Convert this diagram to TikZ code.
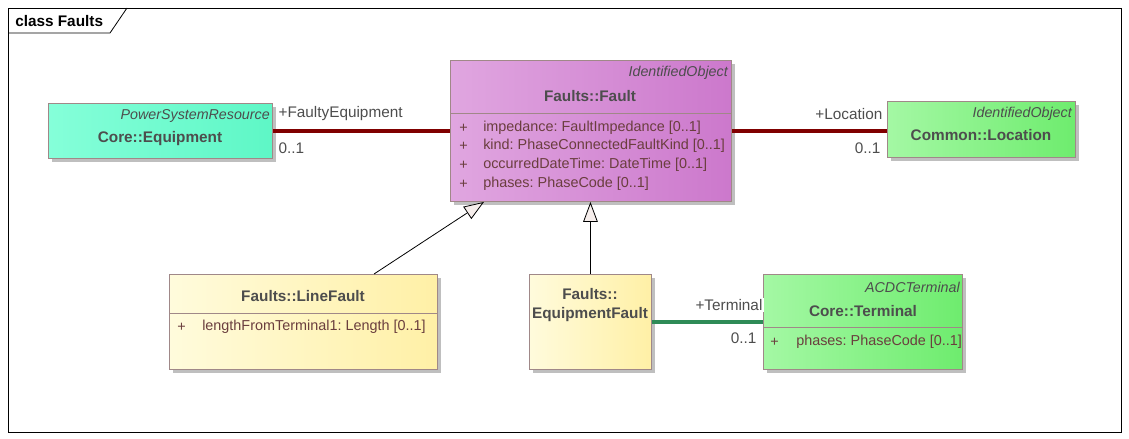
\documentclass[tikz,border=0pt]{standalone}
\usepackage{fontspec}
\setmainfont{Liberation Sans}
\usetikzlibrary{calc, positioning, shadows, arrows.meta}
\frenchspacing

\definecolor{boxline}{HTML}{A08888}
\definecolor{titletext}{HTML}{4D4D4D}
\definecolor{attrtext}{HTML}{6A3E3E}
\definecolor{assocred}{HTML}{800000}
\definecolor{assocgreen}{HTML}{2E8B57}
\definecolor{aqualeft}{HTML}{85FFD9}
\definecolor{aquaright}{HTML}{5EF7C6}
\definecolor{plumleft}{HTML}{E0A6E0}
\definecolor{plumright}{HTML}{CC78CC}
\definecolor{greenleft}{HTML}{A4F8A4}
\definecolor{greenright}{HTML}{6EEC6E}
\definecolor{yellowleft}{HTML}{FFFBDC}
\definecolor{yellowright}{HTML}{FFF0A6}
\definecolor{tipfill}{HTML}{F6EEEC}

\tikzset{
	umlbox/.style={draw=boxline, line width=0.7pt, anchor=north west, inner sep=0pt,
		drop shadow={shadow xshift=3pt, shadow yshift=-3pt, fill=black!25, opacity=1}},
	stereo/.style={font=\itshape\fontsize{10.7}{12}\selectfont, text=titletext, inner sep=0pt},
	classname/.style={font=\bfseries\fontsize{11.5}{14}\selectfont, text=titletext, inner sep=0pt},
	attr/.style={font=\fontsize{10.8}{13}\selectfont, text=attrtext, inner sep=0pt, anchor=west},
	role/.style={font=\fontsize{11.5}{13}\selectfont, text=titletext, inner sep=1pt},
	assoc/.style={line width=3pt},
	general/.style={line width=0.6pt, -{Triangle[open, fill=tipfill, length=15pt, width=11pt]}}
}

\begin{document}
\begin{tikzpicture}[x=0.75pt, y=-0.75pt]
	\useasboundingbox (0,0) rectangle (1129,439);

	% frame
	\draw[line width=0.6pt] (8,8) rectangle (1121,432);
	\draw[line width=0.6pt] (8,33) -- (110,33) -- (127,8);
	\node[anchor=west, inner sep=0pt, font=\bfseries\fontsize{11.5}{14}\selectfont] (title) at (15,21) {class Faults};

	% classes
	\node[umlbox, left color=aqualeft, right color=aquaright, minimum width=224*0.75pt, minimum height=55*0.75pt] (equip) at (48,103) {};
	\node[stereo, anchor=east] (equipst) at (270,116) {PowerSystemResource};
	\node[classname] (equipname) at (160,139) {Core::Equipment};

	\node[umlbox, left color=plumleft, right color=plumright, minimum width=281*0.75pt, minimum height=141*0.75pt] (fault) at (450,60) {};
	\node[stereo, anchor=east] (faultst) at (728,73) {IdentifiedObject};
	\node[classname] (faultname) at (590,96) {Faults::Fault};
	\draw[boxline, line width=0.7pt] (450,113) -- (731,113);
	\foreach \y/\txt in {128/impedance: FaultImpedance [0..1], 146/kind: PhaseConnectedFaultKind [0..1], 165/occurredDateTime: DateTime [0..1], 184/phases: PhaseCode [0..1]} {
		\node[attr] at (459,\y) {+};
		\node[attr] at (483,\y) {\txt};
	}

	\node[umlbox, left color=greenleft, right color=greenright, minimum width=188*0.75pt, minimum height=56*0.75pt] (loc) at (887,101) {};
	\node[stereo, anchor=east] (locst) at (1072,114) {IdentifiedObject};
	\node[classname] (locname) at (981,135) {Common::Location};

	\node[umlbox, left color=yellowleft, right color=yellowright, minimum width=268*0.75pt, minimum height=95*0.75pt] (linefault) at (169,274) {};
	\node[classname] (linefaultname) at (303,296) {Faults::LineFault};
	\draw[boxline, line width=0.7pt] (169,313) -- (437,313);
	\node[attr] at (177,327) {+};
	\node[attr] at (202,327) {lengthFromTerminal1: Length [0..1]};

	\node[umlbox, left color=yellowleft, right color=yellowright, minimum width=122*0.75pt, minimum height=95*0.75pt] (eqfault) at (529,274) {};
	\node[classname, align=center] (eqfaultname) at (590,305) {Faults::\\EquipmentFault};

	\node[umlbox, left color=greenleft, right color=greenright, minimum width=199*0.75pt, minimum height=95*0.75pt] (term) at (763,274) {};
	\node[stereo, anchor=east] (termst) at (960,287) {ACDCTerminal};
	\node[classname] (termname) at (863,311) {Core::Terminal};
	\draw[boxline, line width=0.7pt] (763,327) -- (962,327);
	\node[attr] at (770,342) {+};
	\node[attr] at (796,342) {phases: PhaseCode [0..1]};

	% associations
	\draw[assoc, assocred] (equip.east) -- (equip.east -| fault.west);
	\node[role, anchor=west] (rolefe) at (277,114) {+FaultyEquipment};
	\node[role, anchor=west] (multfe) at (277,148) {0..1};
	\draw[assoc, assocred] (equip.east -| fault.east) -- (equip.east -| loc.west);
	\node[role, anchor=east] (roleloc) at (884,114) {+Location};
	\node[role, anchor=east] (multloc) at (882,148) {0..1};
	\draw[assoc, assocgreen] (eqfault.east) -- (eqfault.east -| term.west);
	\node[role, anchor=east, fill=white] (roleterm) at (764,305) {+Terminal};
	\node[role, anchor=east] (multterm) at (758,338) {0..1};

	% generalizations
	\draw[general] ($(linefault.north west)+(205,0)$) -- ($(fault.south west)+(34,0)$);
	\draw[general] (eqfault.north) -- (eqfault.north |- fault.south);
\end{tikzpicture}
\end{document}
